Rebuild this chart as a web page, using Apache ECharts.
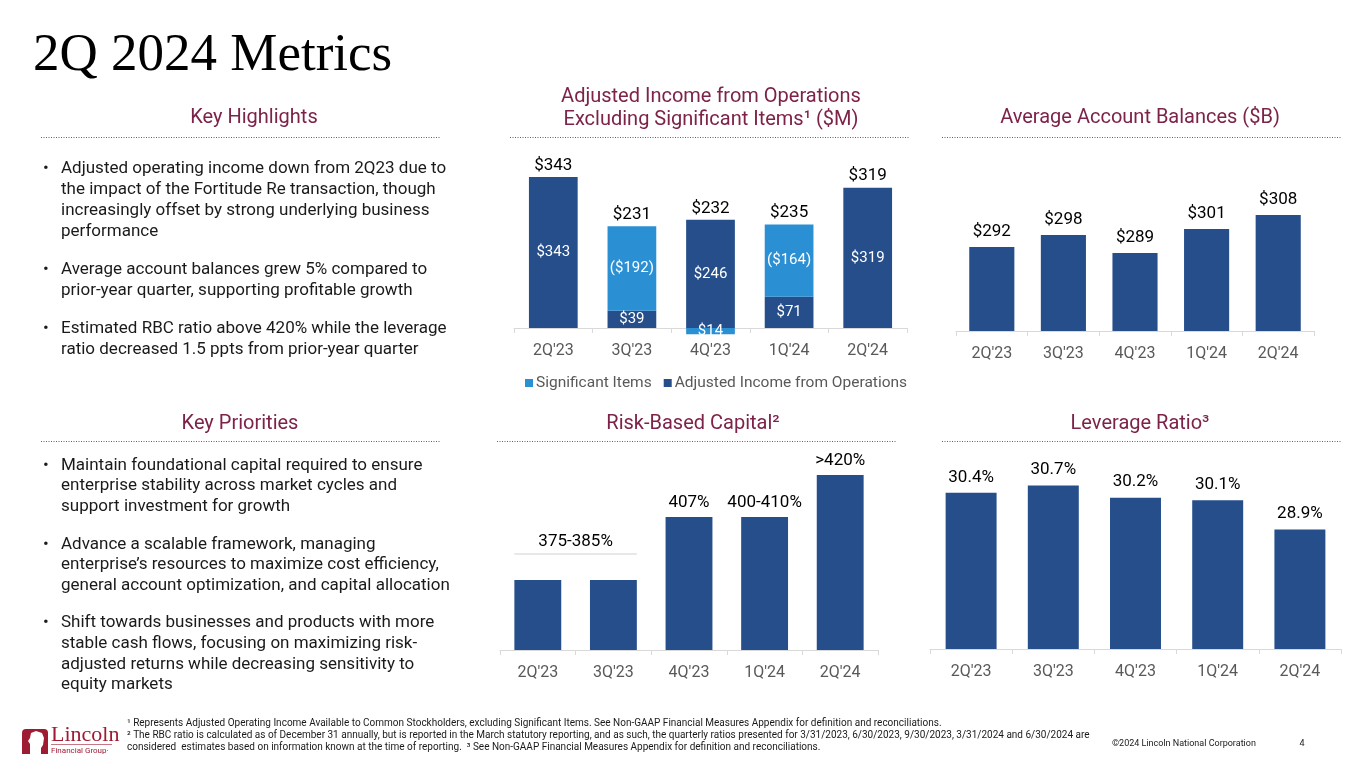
<!DOCTYPE html>
<html><head><meta charset="utf-8">
<script src="https://cdn.jsdelivr.net/npm/echarts@6/dist/echarts.min.js"></script>
<style>html,body{margin:0;padding:0;background:#fff}#c{width:1365px;height:768px}</style>
</head><body><div id="c"></div>
<script>
// ---------- data ----------
const categories = ["2Q'23", "3Q'23", "4Q'23", "1Q'24", "2Q'24"];
const adjustedIncome = [343, 39, 246, 71, 319];
const significantItems = [null, 192, -14, 164, null];
const incomeTotals = [343, 231, 232, 235, 319];
const accountBalances = [292, 298, 289, 301, 308];
const rbcValues = [380, 380, 407, 407, 425];
const rbcLabels = ['375-385%', '375-385%', '407%', '400-410%', '>420%'];
const rbcRangeLabel = '375-385%';
const leverageRatio = [30.4, 30.7, 30.2, 30.1, 28.9];

const slideTitle = '2Q 2024 Metrics';
const highlights = [
  ['Adjusted operating income down from 2Q23 due to', 'the impact of the Fortitude Re transaction, though', 'increasingly offset by strong underlying business', 'performance'],
  ['Average account balances grew 5% compared to', 'prior-year quarter, supporting profitable growth'],
  ['Estimated RBC ratio above 420% while the leverage', 'ratio decreased 1.5 ppts from prior-year quarter']
];
const priorities = [
  ['Maintain foundational capital required to ensure', 'enterprise stability across market cycles and', 'support investment for growth'],
  ['Advance a scalable framework, managing', 'enterprise\u2019s resources to maximize cost efficiency,', 'general account optimization, and capital allocation'],
  ['Shift towards businesses and products with more', 'stable cash flows, focusing on maximizing risk-', 'adjusted returns while decreasing sensitivity to', 'equity markets']
];
const footnotes = [
  '\u00B9 Represents Adjusted Operating Income Available to Common Stockholders, excluding Significant Items. See Non-GAAP Financial Measures Appendix for definition and reconciliations.',
  '\u00B2 The RBC ratio is calculated as of December 31 annually, but is reported in the March statutory reporting, and as such, the quarterly ratios presented for 3/31/2023, 6/30/2023, 9/30/2023, 3/31/2024 and 6/30/2024 are',
  'considered  estimates based on information known at the time of reporting.  \u00B3 See Non-GAAP Financial Measures Appendix for definition and reconciliations.'
];

// ---------- styles ----------
const DARK = '#254E8B', LIGHT = '#2B8FD4', MAROON = '#7D2248';
const FONT = 'Roboto, "Noto Sans", sans-serif';
const stackTop = adjustedIncome.map((v, i) => Math.max(v, 0) + Math.max(significantItems[i] || 0, 0));

const graphic = [];
function txt(x, y, text, size, color, align, family) {
  graphic.push({ type: 'text', x: x, y: y, silent: true,
    style: { text: text, font: size + 'px ' + (family || FONT), fill: color, align: align || 'left', verticalAlign: 'middle' } });
}
function dotted(x1, x2, y) {
  graphic.push({ type: 'line', silent: true, shape: { x1: x1, y1: y, x2: x2, y2: y },
    style: { stroke: '#606060', lineWidth: 1, lineDash: [1, 1.5] } });
}
txt(33, 56, slideTitle, 53, '#000', 'left', '"Liberation Serif", "DejaVu Serif", serif');
// section heads
txt(254, 118, 'Key Highlights', 20, MAROON, 'center'); dotted(41, 440, 137.5);
txt(711, 97, 'Adjusted Income from Operations', 20, MAROON, 'center');
txt(711, 120, 'Excluding Significant Items\u00B9 ($M)', 20, MAROON, 'center'); dotted(510, 910, 137.5);
txt(1140, 118, 'Average Account Balances ($B)', 20, MAROON, 'center'); dotted(942, 1342, 137.5);
txt(240, 424, 'Key Priorities', 20, MAROON, 'center'); dotted(41, 440, 441.5);
txt(693, 424, 'Risk-Based Capital\u00B2', 20, MAROON, 'center'); dotted(497, 896, 441.5);
txt(1140, 424, 'Leverage Ratio\u00B3', 20, MAROON, 'center'); dotted(942, 1342, 441.5);
// bullets
function bullets(groups, y0, step) {
  let y = y0;
  groups.forEach(lines => {
    txt(43, y, '\u2022', 17, '#1a1a1a');
    lines.forEach(l => { txt(61, y, l, 17, '#1a1a1a'); y += step; });
    y += 17;
  });
}
bullets(highlights, 168.5, 21);
bullets(priorities, 465.5, 20.6);
// footnotes
footnotes.forEach((f, i) => txt(127, 723 + i * 12, f, 10, '#1a1a1a'));
txt(1112, 744, '\u00A92024 Lincoln National Corporation', 9, '#1a1a1a');
txt(1302, 744, '4', 9, '#1a1a1a', 'center');
// logo
graphic.push({ type: 'rect', silent: true, shape: { x: 22, y: 729, width: 26, height: 25, r: [4, 4, 0, 0] }, style: { fill: '#9E1B32' } });
graphic.push({ type: 'polygon', silent: true, shape: { points: [[30, 754], [30, 744], [28, 741], [30, 738], [31, 733], [36, 731], [42, 733], [44, 738], [43, 745], [41, 748], [41, 754]] }, style: { fill: '#fff' } });
txt(51, 735, 'Lincoln', 22, '#9E1B32', 'left', '"Liberation Serif", serif');
graphic.push({ type: 'line', silent: true, shape: { x1: 51, y1: 744.5, x2: 112, y2: 744.5 }, style: { stroke: '#9E1B32', lineWidth: 0.6 } });
txt(51, 751, 'Financial Group\u00B7', 8, '#9E1B32');

// ---------- axes ----------
function xAxis(gi, margin) {
  return { type: 'category', gridIndex: gi, data: categories,
    axisLine: { onZero: true, lineStyle: { color: '#D9D9D9', width: 1 } },
    axisTick: { show: true, length: 5, lineStyle: { color: '#D9D9D9' } },
    axisLabel: { color: '#595959', fontSize: 16, fontFamily: FONT, margin: margin } };
}
function yAxis(gi, min, max) {
  return { type: 'value', gridIndex: gi, min: min, max: max, show: false, splitLine: { show: false } };
}
const lbl = { fontFamily: FONT, fontSize: 17, color: '#000' };

const option = {
  animation: false,
  graphic: graphic,
  grid: [
    { left: 514, width: 393, top: 152, height: 184.8 },
    { left: 956, width: 358, top: 171, height: 160 },
    { left: 500, width: 378, top: 463.33, height: 186.67 },
    { left: 930, width: 411, top: 453.8, height: 195.2 }
  ],
  xAxis: [xAxis(0, 6), xAxis(1, 15), xAxis(2, 15), xAxis(3, 15)],
  yAxis: [yAxis(0, -20, 400), yAxis(1, 250, 330), yAxis(2, 350, 430), yAxis(3, 24, 32)],
  legend: { left: 520, top: 370, itemWidth: 8, itemHeight: 8, itemGap: 12, icon: 'rect',
    data: ['Significant Items', 'Adjusted Income from Operations'],
    textStyle: { color: '#595959', fontSize: 15.5, fontFamily: FONT, padding: [0, 0, 0, -2] } },
  series: [
    { name: 'Adjusted Income from Operations', type: 'bar', stack: 'inc', xAxisIndex: 0, yAxisIndex: 0,
      data: adjustedIncome, barWidth: '62%', itemStyle: { color: DARK },
      label: { show: true, position: 'inside', color: '#fff', fontSize: 15, fontFamily: FONT, formatter: p => '$' + p.value } },
    { name: 'Significant Items', type: 'bar', stack: 'inc', xAxisIndex: 0, yAxisIndex: 0,
      data: significantItems, barWidth: '62%', itemStyle: { color: LIGHT },
      label: { show: true, position: 'inside', color: '#fff', fontSize: 15, fontFamily: FONT,
        formatter: p => p.value > 0 ? '($' + p.value + ')' : '$' + (-p.value) } },
    { name: 'totals', type: 'bar', xAxisIndex: 0, yAxisIndex: 0, barGap: '-100%', barWidth: '62%', silent: true,
      data: stackTop, itemStyle: { color: 'rgba(0,0,0,0)' },
      label: Object.assign({ show: true, position: 'top', distance: 3, formatter: p => '$' + incomeTotals[p.dataIndex] }, lbl) },
    { name: 'balances', type: 'bar', xAxisIndex: 1, yAxisIndex: 1, data: accountBalances, barWidth: '63%',
      itemStyle: { color: DARK },
      label: Object.assign({ show: true, position: 'top', distance: 7, formatter: p => '$' + p.value }, lbl) },
    { name: 'rbc', type: 'bar', xAxisIndex: 2, yAxisIndex: 2, data: rbcValues, barWidth: '62%',
      itemStyle: { color: DARK },
      label: Object.assign({ show: true, position: 'top', distance: 6,
        formatter: p => rbcLabels[p.dataIndex] === rbcRangeLabel ? '' : rbcLabels[p.dataIndex] }, lbl) },
    { name: 'rbcRange', type: 'custom', xAxisIndex: 2, yAxisIndex: 2, silent: true,
      data: [[0, 1, rbcValues[0]]],
      renderItem: (params, api) => {
        const p0 = api.coord([api.value(0), api.value(2)]);
        const p1 = api.coord([api.value(1), api.value(2)]);
        const hb = api.size([1, 0])[0] * 0.62 / 2;
        const y = p0[1] - 26;
        return { type: 'group', children: [
          { type: 'line', shape: { x1: p0[0] - hb, y1: y, x2: p1[0] + hb, y2: y }, style: { stroke: '#D0D0D0', lineWidth: 1 } },
          { type: 'text', x: (p0[0] + p1[0]) / 2, y: y - 12,
            style: { text: rbcRangeLabel, font: '17px ' + FONT, fill: '#000', align: 'center', verticalAlign: 'middle' } }
        ] };
      } },
    { name: 'leverage', type: 'bar', xAxisIndex: 3, yAxisIndex: 3, data: leverageRatio, barWidth: '62%',
      itemStyle: { color: DARK },
      label: Object.assign({ show: true, position: 'top', distance: 7, formatter: p => p.value.toFixed(1) + '%' }, lbl) }
  ]
};
const chart = echarts.init(document.getElementById('c'));
chart.setOption(option);
</script></body></html>
